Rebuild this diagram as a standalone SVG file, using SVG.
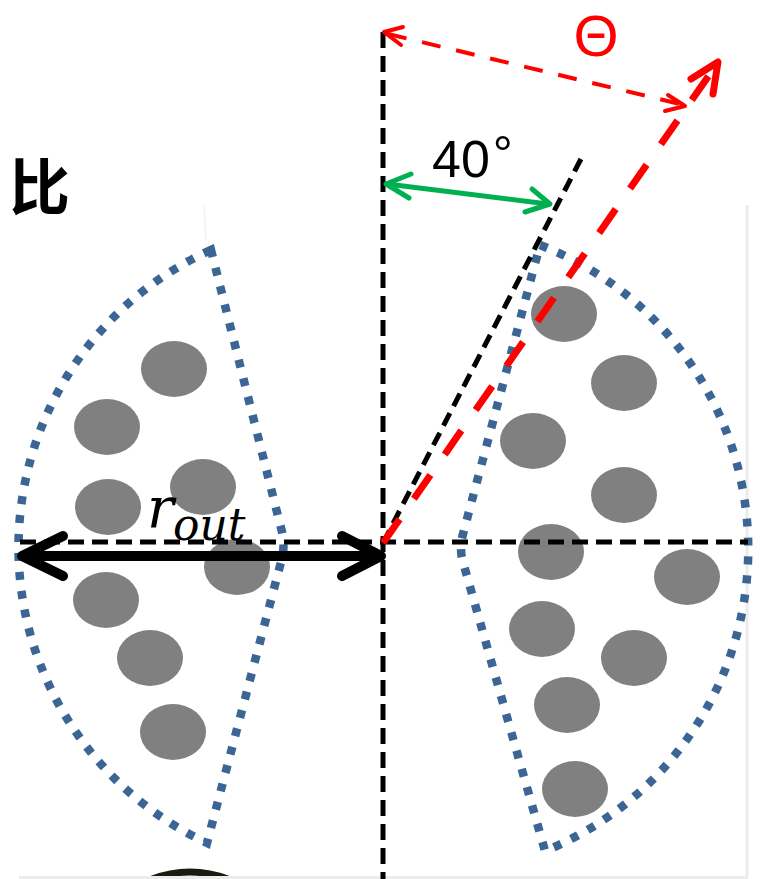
<svg xmlns="http://www.w3.org/2000/svg" width="780" height="879" viewBox="0 0 780 879">
<style>
.sector{fill:none;stroke:#3a6594;stroke-width:8.5;stroke-dasharray:8 11;}
.dot{fill:#808080;}
.axis{fill:none;stroke:#000;stroke-width:5;stroke-dasharray:16 8;}
.ref{fill:none;stroke:#000;stroke-width:5;stroke-dasharray:14 8;}
.red{fill:none;stroke:#ff0000;stroke-linecap:butt;}
.redhead{fill:none;stroke:#ff0000;stroke-linecap:round;stroke-linejoin:round;}
.green{fill:none;stroke:#00b050;stroke-width:5;stroke-linecap:round;stroke-linejoin:round;}
.blk{fill:none;stroke:#000;stroke-width:10;stroke-linecap:round;stroke-linejoin:round;}
.faint{fill:none;stroke:#ebebeb;stroke-width:3;}
</style>
<rect width="780" height="879" fill="#ffffff"/>
<g id="frame">
<line class="faint" x1="747" y1="205" x2="747" y2="877"/>
<line x1="204" y1="205" x2="206" y2="240" stroke="#f3f3f3" stroke-width="2"/>
<circle cx="190" cy="976" r="104" fill="none" stroke="#1a1a12" stroke-width="7"/>
<rect x="19" y="876" width="729" height="3" fill="#ececec"/>
</g>
<g id="title">
<text x="9" y="210" font-family="'Noto Sans CJK SC','Noto Sans CJK JP',sans-serif" font-weight="bold" font-size="61" fill="#000">比</text>
</g>
<g id="left-sector">
<path class="sector" d="M 211 250 A 326 326 0 0 0 207 843 L 281 562 Q 286 545 281 528 Z"/>
<ellipse class="dot" cx="174" cy="369" rx="33" ry="28"/>
<ellipse class="dot" cx="107" cy="427" rx="33" ry="28"/>
<ellipse class="dot" cx="203" cy="487" rx="33" ry="28"/>
<ellipse class="dot" cx="108" cy="507" rx="33" ry="28"/>
<ellipse class="dot" cx="237" cy="567" rx="33" ry="28"/>
<ellipse class="dot" cx="106" cy="600" rx="33" ry="28"/>
<ellipse class="dot" cx="150" cy="658" rx="33" ry="28"/>
<ellipse class="dot" cx="173" cy="732" rx="33" ry="28"/>
</g>
<g id="right-sector">
<path class="sector" d="M 540 245 A 326 326 0 0 1 545 851 L 463 562 Q 459 548 463 534 Z"/>
<ellipse class="dot" cx="564" cy="314" rx="33" ry="28"/>
<ellipse class="dot" cx="624" cy="383" rx="33" ry="28"/>
<ellipse class="dot" cx="533" cy="441" rx="33" ry="28"/>
<ellipse class="dot" cx="624" cy="495" rx="33" ry="28"/>
<ellipse class="dot" cx="551" cy="552" rx="33" ry="28"/>
<ellipse class="dot" cx="687" cy="577" rx="33" ry="28"/>
<ellipse class="dot" cx="542" cy="629" rx="33" ry="28"/>
<ellipse class="dot" cx="634" cy="658" rx="33" ry="28"/>
<ellipse class="dot" cx="567" cy="705" rx="33" ry="28"/>
<ellipse class="dot" cx="575" cy="789" rx="33" ry="28"/>
</g>
<g id="connectors">
<line class="axis" x1="383" y1="32" x2="383" y2="879"/>
<line class="axis" x1="20" y1="542" x2="748" y2="542"/>
<line class="ref" x1="383" y1="543" x2="583" y2="155"/>
<line class="red" stroke-width="7" stroke-dasharray="29 25" x1="383" y1="543" x2="712" y2="71"/>
<polyline class="redhead" stroke-width="7" points="691,79 718,62 713,94"/>
<line class="red" stroke-width="4" stroke-dasharray="19 16" x1="388" y1="34" x2="680" y2="104"/>
<polyline class="redhead" stroke-width="4" points="403,27 384,32 401,45"/>
<polyline class="redhead" stroke-width="4" points="668,95 685,106 665,111"/>
<line class="green" x1="387" y1="184" x2="548" y2="204"/>
<polyline class="green" points="411,174 386,184 409,198"/>
<polyline class="green" points="532,189 550,204 525,212"/>
<line class="blk" x1="24" y1="556" x2="379" y2="556"/>
<polyline class="blk" points="63,536 22,556 63,576"/>
<polyline class="blk" points="342,536 381,556 342,576"/>
</g>
<g id="labels">
<text x="596" y="56" text-anchor="middle" font-family="'Liberation Sans',Arial,sans-serif" font-size="58" fill="#ff0000">Θ</text>
<text x="432" y="177" font-family="'Liberation Sans',Arial,sans-serif" font-size="52" fill="#000">40<tspan font-size="50" dx="3" dy="-6">°</tspan></text>
<text x="147" y="527" font-family="'DejaVu Serif',serif" font-style="italic" font-size="56" fill="#000">r</text>
<text x="173" y="540" font-family="'DejaVu Serif',serif" font-style="italic" font-size="44" fill="#000">out</text>
</g>
</svg>
